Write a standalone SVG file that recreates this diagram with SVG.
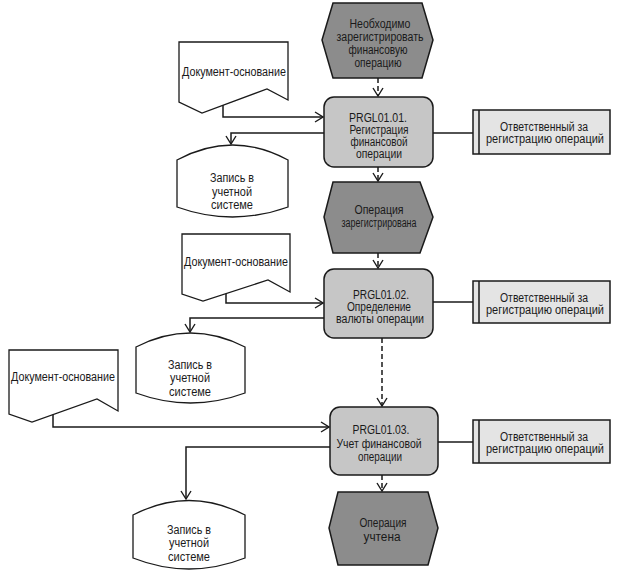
<svg xmlns="http://www.w3.org/2000/svg" width="620" height="577" viewBox="0 0 620 577">
<style>
text{font-family:"Liberation Sans",Arial,sans-serif;font-size:12px;fill:#1a1a1a;text-anchor:middle}
.ev{fill:#8c8c8c;stroke:#1a1a1a;stroke-width:1.5}
.fn{fill:#c6c6c6;stroke:#1a1a1a;stroke-width:1.5}
.doc{fill:#fff;stroke:#1a1a1a;stroke-width:1.3}
.org{fill:#e4e4e4;stroke:#1a1a1a;stroke-width:1.5}
.c{fill:none;stroke:#1a1a1a;stroke-width:1.5}
.d{stroke-dasharray:5 3}
</style>
<defs>
<marker id="a" markerUnits="userSpaceOnUse" markerWidth="12" markerHeight="12" viewBox="0 0 12 12" refX="11" refY="6" orient="auto">
<path d="M3,1 L11,6 L3,11" fill="none" stroke="#1a1a1a" stroke-width="1.4"/>
</marker>
</defs>
<g id="connectors">
<path class="c d" d="M378,78 V96" marker-end="url(#a)"/>
<path class="c" d="M223,105 V117 H323" marker-end="url(#a)"/>
<path class="c" d="M324,133 H231 V144" marker-end="url(#a)"/>
<path class="c" d="M433,133 H473"/>
<path class="c d" d="M378,167 V181" marker-end="url(#a)"/>
<path class="c d" d="M378,253 V268" marker-end="url(#a)"/>
<path class="c" d="M226,294 V303 H323" marker-end="url(#a)"/>
<path class="c" d="M324,318 H190 V332" marker-end="url(#a)"/>
<path class="c" d="M433,302 H473"/>
<path class="c d" d="M382,338 V406" marker-end="url(#a)"/>
<path class="c" d="M53,414 V427 H329" marker-end="url(#a)"/>
<path class="c" d="M330,447 H186 V499" marker-end="url(#a)"/>
<path class="c" d="M438,442 H473"/>
<path class="c d" d="M382,475 V491" marker-end="url(#a)"/>
</g>
<g id="ev1">
<polygon class="ev" points="333,3 422,3 433,40 422,78 333,78 322,40"/>
<text x="380" y="28" textLength="61" lengthAdjust="spacingAndGlyphs">Необходимо</text>
<text x="380" y="41" textLength="87" lengthAdjust="spacingAndGlyphs">зарегистрировать</text>
<text x="378" y="54" textLength="59" lengthAdjust="spacingAndGlyphs">финансовую</text>
<text x="378" y="67" textLength="47" lengthAdjust="spacingAndGlyphs">операцию</text>
</g>
<g id="doc1">
<polygon class="doc" points="179,42 288,42 288,100 267,89 202,113 179,102"/>
<text x="234" y="76" textLength="104" lengthAdjust="spacingAndGlyphs">Документ-основание</text>
</g>
<g id="fn1">
<rect class="fn" x="324" y="97" width="109" height="70" rx="10"/>
<text x="378" y="122" textLength="58" lengthAdjust="spacingAndGlyphs">PRGL01.01.</text>
<text x="379" y="134" textLength="59" lengthAdjust="spacingAndGlyphs">Регистрация</text>
<text x="379" y="146" textLength="57" lengthAdjust="spacingAndGlyphs">финансовой</text>
<text x="379" y="158" textLength="46" lengthAdjust="spacingAndGlyphs">операции</text>
</g>
<g id="db1">
<path class="doc" d="M177,160 Q232.5,130 288,160 V207 Q232.5,227 177,207 Z"/>
<text x="232" y="182" textLength="44" lengthAdjust="spacingAndGlyphs">Запись в</text>
<text x="232" y="196" textLength="40" lengthAdjust="spacingAndGlyphs">учетной</text>
<text x="232" y="209" textLength="42" lengthAdjust="spacingAndGlyphs">системе</text>
</g>
<g id="org1">
<rect class="org" x="473" y="110" width="137" height="44"/>
<line class="c" x1="479" y1="110" x2="479" y2="154"/>
<text x="544" y="131" textLength="88" lengthAdjust="spacingAndGlyphs">Ответственный за</text>
<text x="545" y="143" textLength="118" lengthAdjust="spacingAndGlyphs">регистрацию операций</text>
</g>
<g id="ev2">
<polygon class="ev" points="333,182 420,182 433,217 420,253 333,253 324,217"/>
<text x="379" y="214" textLength="49" lengthAdjust="spacingAndGlyphs">Операция</text>
<text x="379" y="227" textLength="75" lengthAdjust="spacingAndGlyphs">зарегистрирована</text>
</g>
<g id="doc2">
<polygon class="doc" points="182,234 290,234 290,292 268,280 203,301 182,294"/>
<text x="236" y="266" textLength="104" lengthAdjust="spacingAndGlyphs">Документ-основание</text>
</g>
<g id="fn2">
<rect class="fn" x="324" y="269" width="109" height="69" rx="10"/>
<text x="381" y="299" textLength="56" lengthAdjust="spacingAndGlyphs">PRGL01.02.</text>
<text x="379" y="311" textLength="64" lengthAdjust="spacingAndGlyphs">Определение</text>
<text x="380" y="323" textLength="88" lengthAdjust="spacingAndGlyphs">валюты операции</text>
</g>
<g id="db2">
<path class="doc" d="M136,347 Q190.5,319 245,347 V393 Q190.5,413 136,393 Z"/>
<text x="190" y="369" textLength="44" lengthAdjust="spacingAndGlyphs">Запись в</text>
<text x="190" y="382" textLength="40" lengthAdjust="spacingAndGlyphs">учетной</text>
<text x="190" y="396" textLength="42" lengthAdjust="spacingAndGlyphs">системе</text>
</g>
<g id="org2">
<rect class="org" x="473" y="281" width="137" height="42"/>
<line class="c" x1="479" y1="281" x2="479" y2="323"/>
<text x="544" y="302" textLength="88" lengthAdjust="spacingAndGlyphs">Ответственный за</text>
<text x="545" y="314" textLength="118" lengthAdjust="spacingAndGlyphs">регистрацию операций</text>
</g>
<g id="doc3">
<polygon class="doc" points="9,350 118,350 118,411 97,399 32,422 9,414"/>
<text x="63" y="381" textLength="104" lengthAdjust="spacingAndGlyphs">Документ-основание</text>
</g>
<g id="fn3">
<rect class="fn" x="330" y="407" width="108" height="68" rx="10"/>
<text x="381" y="434" textLength="57" lengthAdjust="spacingAndGlyphs">PRGL01.03.</text>
<text x="379" y="448" textLength="85" lengthAdjust="spacingAndGlyphs">Учет финансовой</text>
<text x="380" y="461" textLength="44" lengthAdjust="spacingAndGlyphs">операции</text>
</g>
<g id="db3">
<path class="doc" d="M133,515 Q189,486 245,515 V558 Q189,580 133,558 Z"/>
<text x="189" y="534" textLength="44" lengthAdjust="spacingAndGlyphs">Запись в</text>
<text x="189" y="547" textLength="40" lengthAdjust="spacingAndGlyphs">учетной</text>
<text x="189" y="561" textLength="42" lengthAdjust="spacingAndGlyphs">системе</text>
</g>
<g id="org3">
<rect class="org" x="473" y="420" width="137" height="43"/>
<line class="c" x1="479" y1="420" x2="479" y2="463"/>
<text x="544" y="441" textLength="88" lengthAdjust="spacingAndGlyphs">Ответственный за</text>
<text x="545" y="453" textLength="118" lengthAdjust="spacingAndGlyphs">регистрацию операций</text>
</g>
<g id="ev3">
<polygon class="ev" points="338,492 428,492 438,528 428,565 338,565 329,528"/>
<text x="383" y="527" textLength="47" lengthAdjust="spacingAndGlyphs">Операция</text>
<text x="382" y="541" textLength="37" lengthAdjust="spacingAndGlyphs">учтена</text>
</g>
</svg>
